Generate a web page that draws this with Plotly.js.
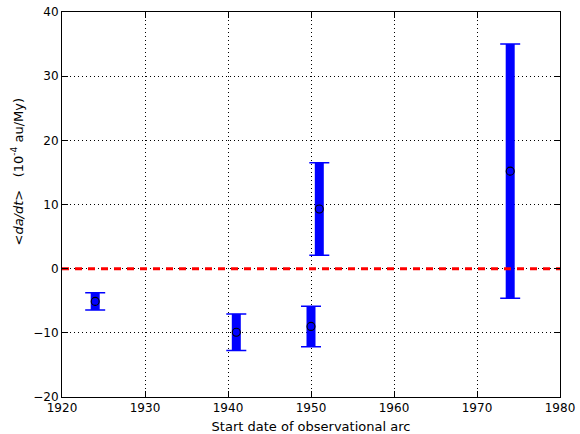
<!DOCTYPE html>
<html><head><meta charset="utf-8">
<script src="https://cdn.plot.ly/plotly-3.0.1.min.js"></script>
<style>body{margin:0;padding:0;background:#fff}#c{width:580px;height:434px}</style>
</head><body><div id="c"></div>
<script>
const startYear = [1924, 1941, 1950, 1951, 1974];
const dadt = [-5.1, -9.9, -9.0, 9.3, 15.2];
const dadtErr = [1.35, 2.85, 3.15, 7.2, 19.8];
const zeroLineX = [1920, 1980];
const zeroLineY = [0, 0];
const yTitle = '<i>&lt;da/dt&gt;</i>   (10<sup>-4</sup> au/My)';
const xTitle = 'Start date of observational arc';

const traces = [
  {x: startYear, y: dadt, mode: 'markers', type: 'scatter', showlegend: false,
   marker: {opacity: 0, size: 1},
   error_y: {type: 'data', array: dadtErr, visible: true, color: '#0000ff', thickness: 9, width: 0}},
  {x: startYear, y: dadt, mode: 'markers', type: 'scatter', showlegend: false,
   marker: {opacity: 0, size: 1},
   error_y: {type: 'data', array: dadtErr, visible: true, color: '#0000ff', thickness: 1.5, width: 10}},
  {x: startYear, y: dadt, mode: 'markers', type: 'scatter', showlegend: false,
   marker: {symbol: 'circle-open', size: 8, color: '#000000', line: {width: 1.1, color: '#000000'}}},
  {x: zeroLineX, y: zeroLineY, mode: 'lines', type: 'scatter',
   line: {color: '#ff0000', width: 3, dash: '7px,6px'}, hoverinfo: 'skip', showlegend: false}
];

const axisCommon = {
  showgrid: true, gridcolor: '#000000', griddash: '1px,3px', gridwidth: 1,
  zeroline: false, showline: true, linecolor: '#000000', linewidth: 1, mirror: 'ticks',
  ticks: 'inside', ticklen: 6, tickcolor: '#000000', tickwidth: 1,
  tickfont: {family: 'DejaVu Sans', size: 12, color: '#000000'}
};

const layout = {
  width: 580, height: 434,
  margin: {l: 62, r: 20, t: 12, b: 37},
  paper_bgcolor: '#ffffff', plot_bgcolor: '#ffffff',
  font: {family: 'DejaVu Sans', color: '#000000'},
  xaxis: Object.assign({}, axisCommon, {range: [1920, 1980], dtick: 10, tick0: 1920,
    title: {text: xTitle, font: {family: 'DejaVu Sans', size: 13}, standoff: 7}}),
  yaxis: Object.assign({}, axisCommon, {range: [-20, 40], dtick: 10, tick0: -20}),
  annotations: [{
    text: yTitle, textangle: -90, showarrow: false,
    xref: 'paper', yref: 'paper', x: 0, y: 0.5, xanchor: 'center', yanchor: 'middle',
    xshift: -45, yshift: 33,
    font: {family: 'DejaVu Sans', size: 13, color: '#000000'}
  }],
  showlegend: false
};

Plotly.newPlot('c', traces, layout, {displayModeBar: false, staticPlot: true});
</script>
</body></html>
